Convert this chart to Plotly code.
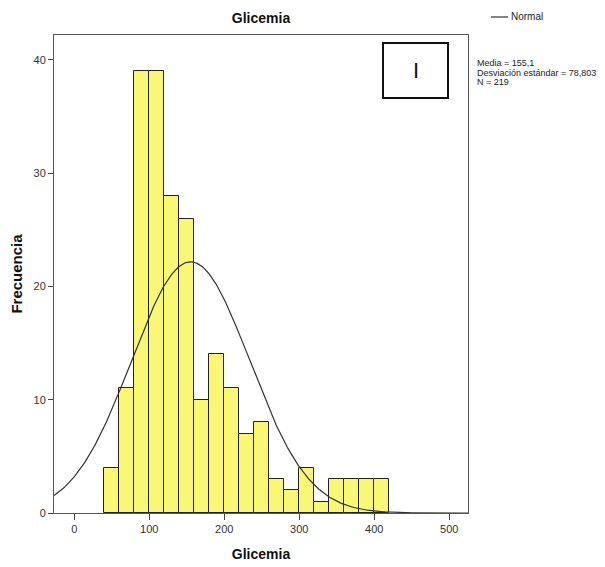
import numpy as np
import plotly.graph_objects as go

# Histogram bins for glycemia values (width 20)
bin_edges = [40, 60, 80, 100, 120, 140, 160, 180, 200, 220, 240, 260, 280,
             300, 320, 340, 360, 380, 400, 420]
counts = [4, 11, 39, 39, 28, 26, 10, 14, 11, 7, 8, 3, 2, 4, 1, 3, 3, 3, 3]

mean_val = 155.1
sd_val = 78.803
n_val = 219

x_ticks = [0, 100, 200, 300, 400, 500]
y_ticks = [0, 10, 20, 30, 40]

edges = np.array(bin_edges, dtype=float)
centers = (edges[:-1] + edges[1:]) / 2
widths = np.diff(edges)
bin_w = widths[0]

x_range = [-27, 525]
y_range = [0, 42.2]

# Fitted normal curve scaled to counts
xs = np.linspace(x_range[0], x_range[1], 400)
ys = n_val * bin_w / (sd_val * np.sqrt(2 * np.pi)) * np.exp(-0.5 * ((xs - mean_val) / sd_val) ** 2)

font_family = "Liberation Sans, Arial, sans-serif"

fig = go.Figure()
fig.add_trace(go.Bar(
    x=centers, y=counts, width=widths,
    marker=dict(color="#faf774", line=dict(color="#222222", width=1)),
    showlegend=False, hoverinfo="x+y",
))
fig.add_trace(go.Scatter(
    x=xs, y=ys, mode="lines", name="Normal",
    line=dict(color="#333333", width=1.2), showlegend=False,
))

fig.update_layout(
    width=605, height=567,
    margin=dict(l=54, r=137, t=35, b=54),
    paper_bgcolor="white", plot_bgcolor="white",
    font=dict(family=font_family, color="#333333", size=11),
    title=dict(text="<b>Glicemia</b>", x=(54 + 468) / 2 / 605, xanchor="center",
               y=1 - 18 / 567, yanchor="middle",
               font=dict(size=14, color="#111111")),
    bargap=0,
    xaxis=dict(range=x_range, tickvals=x_ticks, ticks="outside", ticklen=6,
               tickcolor="#444444", showline=True, linecolor="#555555", mirror=True,
               showgrid=False, zeroline=False, automargin=False,
               title=dict(text="<b>Glicemia</b>", font=dict(size=14, color="#111111"),
                          standoff=14)),
    yaxis=dict(range=y_range, tickvals=y_ticks, ticks="outside", ticklen=5,
               tickcolor="#444444", showline=True, linecolor="#555555", mirror=True,
               showgrid=False, zeroline=False, automargin=False,
               title=dict(text="<b>Frecuencia</b>", font=dict(size=15, color="#111111"),
                          standoff=7)),
)

# Legend entry for the normal curve
fig.add_shape(type="line", xref="paper", yref="paper",
              x0=(491 - 54) / 414, x1=(508 - 54) / 414,
              y0=(513 - 17) / 478, y1=(513 - 17) / 478,
              line=dict(color="#333333", width=1.2))
fig.add_annotation(text="Normal", xref="paper", yref="paper",
                   x=(509 - 54) / 414, y=(513 - 17) / 478,
                   xanchor="left", yanchor="middle", showarrow=False,
                   font=dict(size=10, color="#222222"))

# Summary statistics
stats_lines = [f"Media = {mean_val:.1f}".replace(".", ","),
               f"Desviación estándar = {sd_val:.3f}".replace(".", ","),
               f"N = {n_val}"]
for i, line in enumerate(stats_lines):
    fig.add_annotation(text=line, xref="paper", yref="paper",
                       x=(475 - 54) / 414, y=(513 - (63 + 9.5 * i)) / 478,
                       xanchor="left", yanchor="middle", showarrow=False,
                       font=dict(size=9, color="#222222"))

# Panel label box
fig.add_shape(type="rect", xref="paper", yref="paper",
              x0=(383 - 54) / 414, x1=(448 - 54) / 414,
              y0=(513 - 98) / 478, y1=(513 - 43) / 478,
              line=dict(color="#111111", width=2), fillcolor="white")
fig.add_annotation(text="I", xref="paper", yref="paper",
                   x=(415.5 - 54) / 414, y=(513 - 71) / 478,
                   xanchor="center", yanchor="middle", showarrow=False,
                   font=dict(size=22, color="#111111"))

fig.write_html("out.html")
